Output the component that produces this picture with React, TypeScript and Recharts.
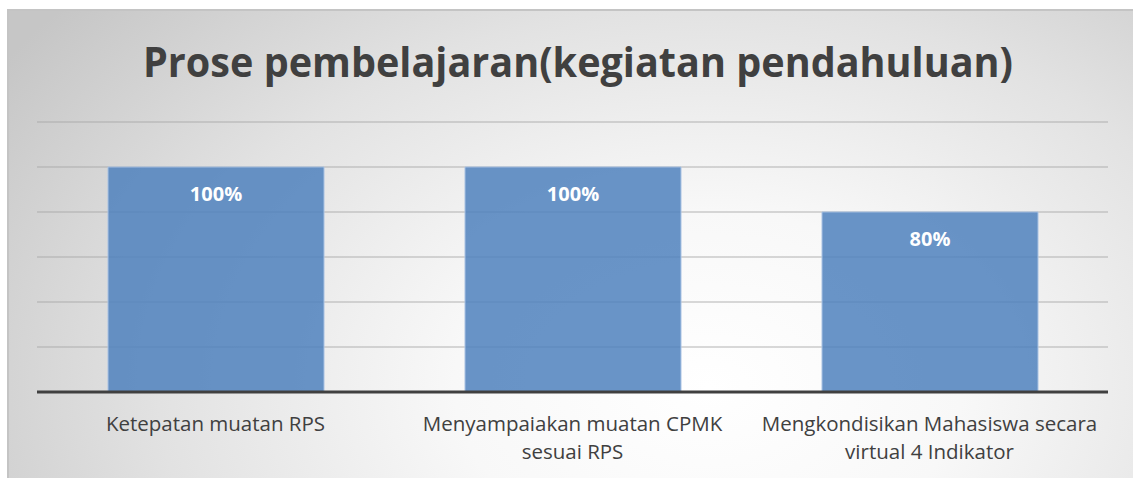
import { Bar, BarChart, CartesianGrid, LabelList, XAxis, YAxis } from "recharts";

const categories = [
  "Ketepatan muatan RPS",
  "Menyampaiakan muatan CPMK\nsesuai RPS",
  "Mengkondisikan Mahasiswa secara\nvirtual 4 Indikator",
];
const percentages = [100, 100, 80];
const yTicks = [0, 20, 40, 60, 80, 100, 120];
const title = "Prose pembelajaran(kegiatan pendahuluan)";

const data = categories.map((name, i) => ({ name, nilai: percentages[i] }));

const FONT = "'Open Sans', 'Noto Sans', sans-serif";

function CategoryTick(props: any) {
  const { x, y, payload } = props;
  const lines = String(payload.value).split("\n");
  return (
    <text x={x} y={y + 31} textAnchor="middle" fill="#404040" fontSize={20.5} fontFamily={FONT}>
      {lines.map((line, i) => (
        <tspan key={i} x={x} dy={i === 0 ? 0 : 28}>
          {line}
        </tspan>
      ))}
    </text>
  );
}

export default function App() {
  return (
    <div
      style={{
        position: "fixed",
        left: 0,
        top: 0,
        width: 1133,
        height: 478,
        background: "#ffffff",
        overflow: "hidden",
      }}
    >
      <div
        style={{
          position: "absolute",
          left: 7,
          top: 9,
          width: 1130,
          height: 472,
          borderTop: "2px solid #c4c4c4",
          borderLeft: "2px solid #c4c4c4",
          boxSizing: "border-box",
          background:
            "radial-gradient(ellipse 75% 125% at 62% 80%, #ffffff 0%, #f8f8f8 30%, #e2e2e2 65%, #c6c6c6 100%)",
        }}
      >
        <svg
          width={1126}
          height={110}
          style={{ position: "absolute", left: -2, top: -2 }}
        >
          <text
            x={571}
            y={68}
            textAnchor="middle"
            fill="#404040"
            fontSize={41}
            fontWeight={700}
            fontFamily={FONT}
            textLength={870}
            lengthAdjust="spacingAndGlyphs"
          >
            {title}
          </text>
        </svg>
        <div style={{ position: "absolute", left: -2, top: -2 }}>
          <BarChart
            width={1126}
            height={469}
            data={data}
            margin={{ top: 113, right: 25, bottom: 0, left: 30 }}
          >
            <CartesianGrid
              vertical={false}
              stroke="#a6a6a6"
              strokeOpacity={0.85}
            />
            <YAxis hide domain={[0, 120]} ticks={yTicks} />
            <XAxis
              dataKey="name"
              height={86}
              interval={0}
              tickLine={false}
              axisLine={{ stroke: "#404040", strokeWidth: 3 }}
              tick={<CategoryTick />}
            />
            <Bar
              dataKey="nilai"
              fill="#4f81bd"
              fillOpacity={0.85}
              stroke="#a9c2e3"
              strokeWidth={1}
              barSize={216}
              isAnimationActive={false}
            >
              <LabelList
                dataKey="nilai"
                position="insideTop"
                offset={20}
                formatter={(v: any) => `${v}%`}
                fill="#ffffff"
                fontSize={20}
                fontWeight={700}
                fontFamily={FONT}
              />
            </Bar>
          </BarChart>
        </div>
      </div>
    </div>
  );
}
